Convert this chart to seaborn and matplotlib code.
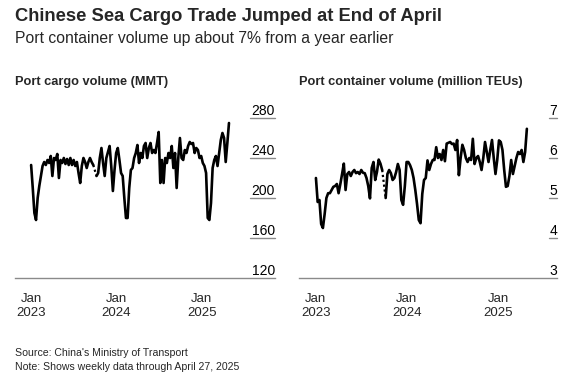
import pandas as pd
import numpy as np
import seaborn as sns
import matplotlib.pyplot as plt
import matplotlib.transforms as mtransforms

sns.set_style("white")
plt.rcParams["font.family"] = ["Liberation Sans", "DejaVu Sans"]

# weekly data, 2023-01-01 through 2025-04-27 (NaN = holiday gap)
weeks = pd.date_range("2023-01-01", "2025-04-27", freq="7D")

cargo = [233, 210, 185, 178, 200, 212, 222, 232, 236, 233, 238, 235, 242, 222, 240, 238,
         244, 220, 238, 235, 240, 234, 239, 233, 240, 233, 238, 232, 236, 225, 215, 232,
         240, 236, 230, 236, 240, 236, 233, np.nan, 222, 225, 240, 250, 235, 222, 240, 246,
         252, 232, 207, 228, 245, 250, 238, 225, 222, 200, 180, 180, 210, 228, 230, 240,
         245, 253, 235, 245, 240, 252, 255, 240, 250, 255, 245, 248, 245, 255, 266, 215,
         238, 215, 240, 235, 245, 240, 252, 230, 245, 210, 240, 260, 240, 238, 248, 245,
         252, 256, 254, 255, 245, 250, 248, 240, 242, 235, 232, 225, 180, 178, 195, 230,
         238, 242, 232, 245, 258, 265, 260, 236, 255, 275]

containers = [5.5, 4.9, 4.95, 4.35, 4.25, 4.6, 5.0, 5.12, 5.12, 5.2, 5.28, 5.3, 5.35, 5.12,
              5.35, 5.6, 5.86, 5.2, 5.6, 5.65, 5.55, 5.65, 5.7, 5.62, 5.65, 5.6, 5.7, 5.63,
              5.62, 5.5, 5.3, 4.99, 5.75, 5.9, 5.45, 5.65, 5.96, 5.86, 5.7, np.nan, 5.0, 5.6,
              5.7, 5.62, 5.45, 5.5, 5.65, 5.85, 5.7, 4.95, 4.83, 5.3, 5.9, 5.9, 5.82, 5.7,
              5.5, 5.2, 4.85, 4.45, 4.37, 5.1, 5.45, 5.5, 5.94, 5.7, 5.85, 5.95, 5.95, 6.27,
              6.0, 6.1, 5.95, 6.2, 5.92, 6.36, 6.38, 6.4, 6.35, 6.36, 6.2, 6.45, 5.57, 6.0,
              6.33, 6.2, 6.0, 5.9, 6.0, 5.95, 6.48, 5.85, 6.0, 6.05, 5.9, 5.7, 6.0, 6.4,
              6.15, 5.9, 6.2, 6.45, 6.0, 5.6, 5.95, 6.44, 6.4, 6.2, 5.7, 5.28, 5.3, 5.55,
              5.95, 5.6, 5.8, 6.0, 6.15, 6.1, 6.2, 5.9, 6.15, 6.73]

cargo_ticks = [120, 160, 200, 240, 280]
container_ticks = [3, 4, 5, 6, 7]
year_ticks = ["2023-01-01", "2024-01-01", "2025-01-01"]

df = pd.DataFrame({"week": weeks, "cargo": cargo, "containers": containers})

fig = plt.figure(figsize=(5.76, 3.79), dpi=100)
fig.patch.set_facecolor("white")

ax1 = fig.add_axes([15 / 576, 1 - 278 / 379, 260 / 576, 178 / 379])
ax2 = fig.add_axes([299 / 576, 1 - 278 / 379, 258 / 576, 178 / 379])

panels = [
    (ax1, "cargo", cargo_ticks, (120, 298), ("2022-10-24", "2025-11-10"), 0.905,
     "Port cargo volume (MMT)"),
    (ax2, "containers", container_ticks, (3, 7.45), ("2022-10-25", "2025-08-26"), 0.97,
     "Port container volume (million TEUs)"),
]

for ax, col, yticks, ylim, xlim, dash_start, title in panels:
    gap_idx = np.where(df[col].isna())[0][0]
    seg1 = df.iloc[:gap_idx]
    seg2 = df.iloc[gap_idx + 1:]
    for seg in (seg1, seg2):
        sns.lineplot(data=seg, x="week", y=col, ax=ax, color="black", lw=1.9)
    # dotted bridge over the holiday week
    bridge = df.iloc[[gap_idx - 1, gap_idx + 1]]
    sns.lineplot(data=bridge, x="week", y=col, ax=ax, color="black", lw=1.6,
                 linestyle=(0, (1, 1.2)))

    ax.set_ylim(*ylim)
    ax.set_xlim(pd.Timestamp(xlim[0]), pd.Timestamp(xlim[1]))
    ax.set_yticks([])
    ax.set_xlabel("")
    ax.set_ylabel("")
    for s in ["top", "left", "right"]:
        ax.spines[s].set_visible(False)
    ax.spines["bottom"].set_color("#8a8a8a")
    ax.spines["bottom"].set_linewidth(1.0)

    ax.set_xticks([pd.Timestamp(t) for t in year_ticks])
    ax.set_xticklabels(["Jan\n2023", "Jan\n2024", "Jan\n2025"], fontsize=9.5,
                       linespacing=1.15)
    ax.tick_params(axis="x", length=5, width=1, color="#8a8a8a", pad=6)

    trans = mtransforms.blended_transform_factory(ax.transAxes, ax.transData)
    for t in yticks:
        if t != yticks[0]:
            ax.plot([dash_start, 1.0], [t, t], transform=trans, color="#8a8a8a",
                    lw=1.0, clip_on=False)
        ax.text(1.0, t, f"{t}", transform=trans, ha="right", va="bottom",
                fontsize=10, color="black")

    # panel title in figure y coords
    ptrans = mtransforms.blended_transform_factory(ax.transAxes, fig.transFigure)
    ax.text(0.0, 1 - 88 / 379, title, transform=ptrans, fontsize=9.2,
            fontweight="bold", ha="left", va="bottom")

fig.text(15 / 576, 1 - 8 / 379, "Chinese Sea Cargo Trade Jumped at End of April",
         fontsize=13.2, fontweight="bold", ha="left", va="top")
fig.text(15 / 576, 1 - 31 / 379, "Port container volume up about 7% from a year earlier",
         fontsize=11.3, ha="left", va="top")
fig.text(15 / 576, 1 - 353 / 379, "Source: China's Ministry of Transport",
         fontsize=7.6, ha="left", va="center")
fig.text(15 / 576, 1 - 367 / 379, "Note: Shows weekly data through April 27, 2025",
         fontsize=7.6, ha="left", va="center")

plt.savefig("out.png", dpi=100, facecolor="white")
